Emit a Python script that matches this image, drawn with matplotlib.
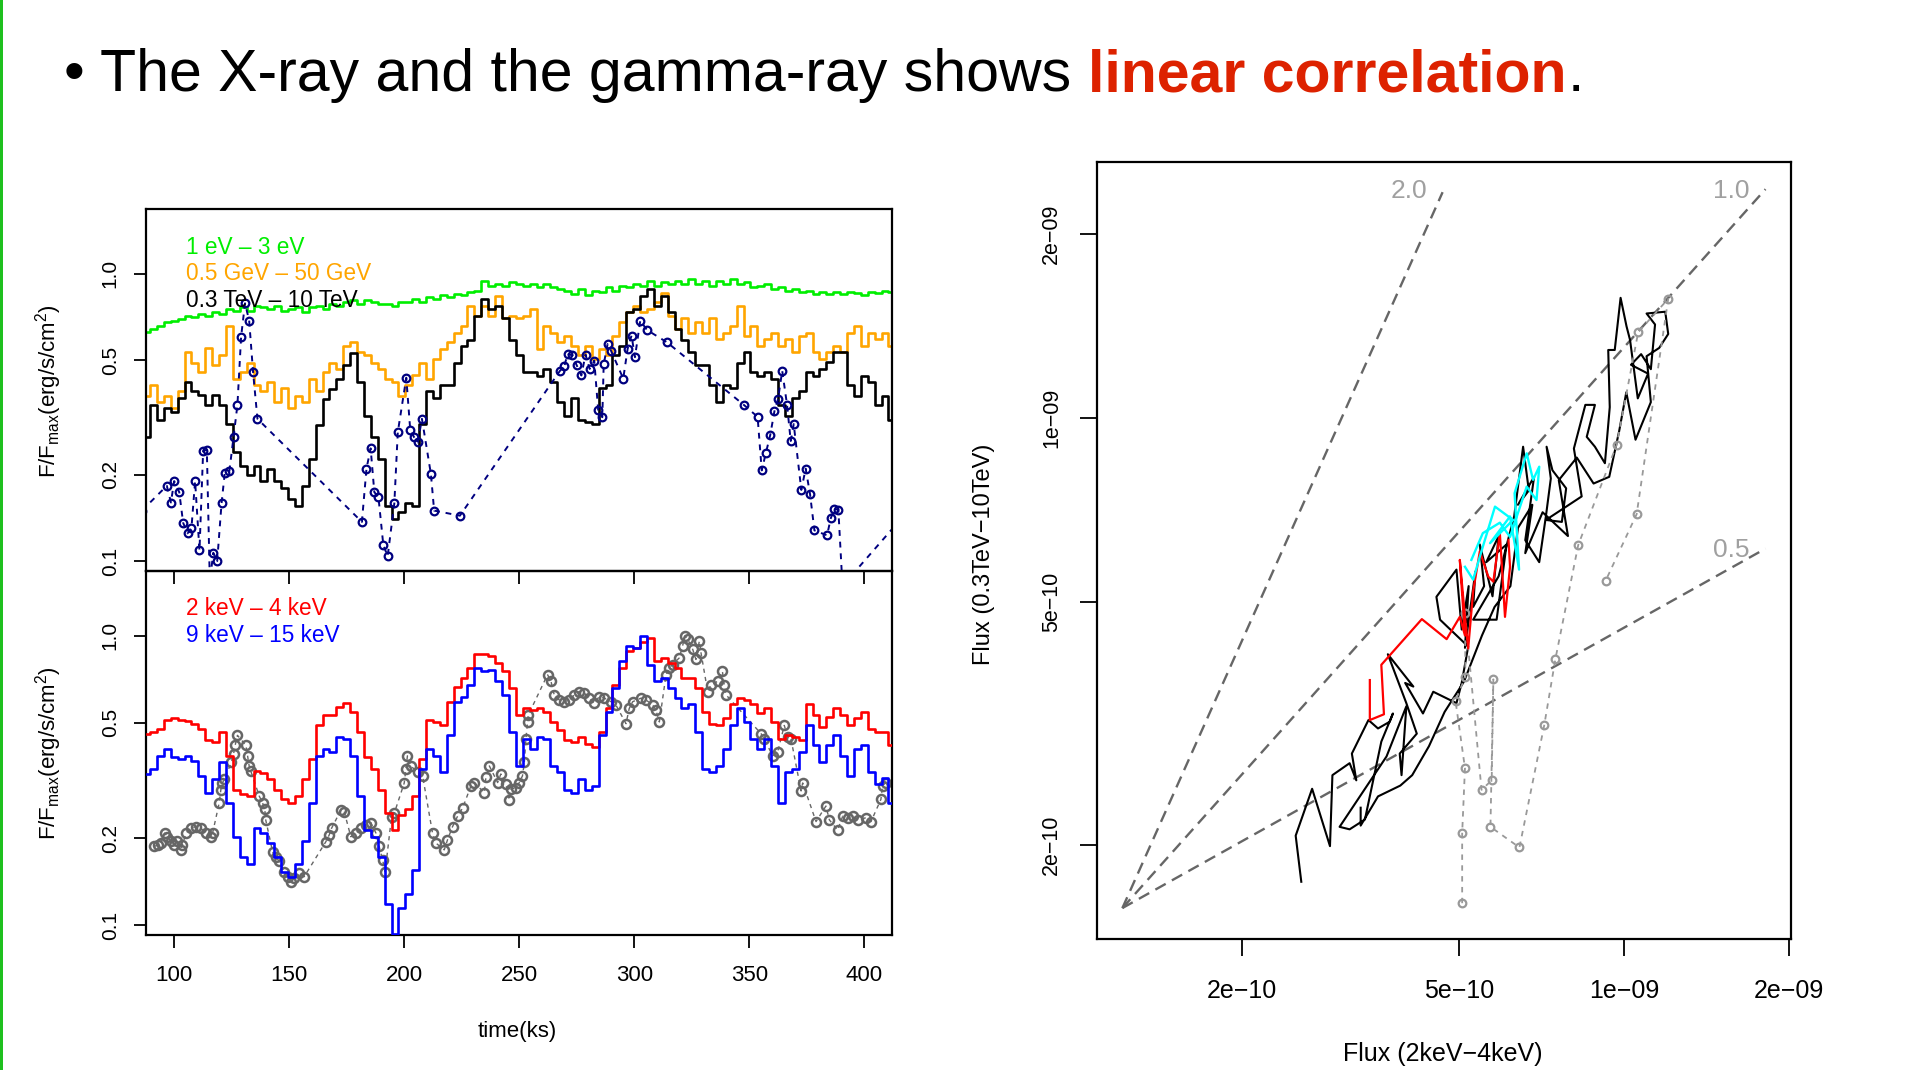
import matplotlib
matplotlib.use("Agg")
import matplotlib.pyplot as plt
from matplotlib.patches import Rectangle
from matplotlib.ticker import NullLocator
import numpy as np

plt.rcParams["font.family"] = ["Liberation Sans", "DejaVu Sans"]
plt.rcParams["mathtext.fontset"] = "custom"
plt.rcParams["mathtext.rm"] = "Liberation Sans"
plt.rcParams["mathtext.it"] = "Liberation Sans:italic"
plt.rcParams["mathtext.bf"] = "Liberation Sans:bold"

# ── Light curves: shared 3-ks time bins (ks) ──────────────────────────────
TIME = [88, 91, 94, 97, 100, 103, 106, 109, 112, 115,
        118, 121, 124, 127, 130, 133, 136, 139, 142, 145,
        148, 151, 154, 157, 160, 163, 166, 169, 172, 175,
        178, 181, 184, 187, 190, 193, 196, 199, 202, 205,
        208, 211, 214, 217, 220, 223, 226, 229, 232, 235,
        238, 241, 244, 247, 250, 253, 256, 259, 262, 265,
        268, 271, 274, 277, 280, 283, 286, 289, 292, 295,
        298, 301, 304, 307, 310, 313, 316, 319, 322, 325,
        328, 331, 334, 337, 340, 343, 346, 349, 352, 355,
        358, 361, 364, 367, 370, 373, 376, 379, 382, 385,
        388, 391, 394, 397, 400, 403, 406, 409, 412]

# optical 1 eV - 3 eV
OPTICAL = [0.626, 0.643, 0.660, 0.679, 0.688, 0.697, 0.716, 0.707, 0.725, 0.716,
           0.735, 0.725, 0.755, 0.745, 0.766, 0.745, 0.776, 0.766, 0.755, 0.776,
           0.745, 0.755, 0.766, 0.735, 0.766, 0.776, 0.755, 0.786, 0.776, 0.797,
           0.808, 0.786, 0.808, 0.797, 0.786, 0.786, 0.776, 0.797, 0.797, 0.818,
           0.797, 0.829, 0.818, 0.841, 0.829, 0.852, 0.841, 0.864, 0.875, 0.948,
           0.911, 0.923, 0.911, 0.935, 0.923, 0.911, 0.923, 0.899, 0.923, 0.899,
           0.887, 0.875, 0.852, 0.887, 0.841, 0.875, 0.864, 0.899, 0.875, 0.911,
           0.899, 0.923, 0.911, 0.948, 0.911, 0.935, 0.923, 0.948, 0.923, 0.961,
           0.923, 0.948, 0.911, 0.948, 0.923, 0.961, 0.923, 0.935, 0.899, 0.911,
           0.923, 0.887, 0.899, 0.875, 0.887, 0.864, 0.875, 0.852, 0.864, 0.852,
           0.868, 0.852, 0.864, 0.860, 0.845, 0.868, 0.860, 0.875, 0.864]

# GeV 0.5 - 50 GeV
GEV = [0.377, 0.410, 0.357, 0.377, 0.340, 0.390, 0.535, 0.490, 0.455, 0.550,
       0.480, 0.520, 0.660, 0.430, 0.455, 0.490, 0.410, 0.390, 0.420, 0.357,
       0.400, 0.340, 0.377, 0.357, 0.430, 0.390, 0.455, 0.490, 0.467, 0.560,
       0.580, 0.535, 0.520, 0.490, 0.467, 0.430, 0.420, 0.377, 0.410, 0.443,
       0.490, 0.430, 0.505, 0.548, 0.578, 0.625, 0.660, 0.775, 0.716, 0.775,
       0.716, 0.840, 0.700, 0.716, 0.700, 0.716, 0.755, 0.548, 0.660, 0.625,
       0.578, 0.610, 0.560, 0.520, 0.560, 0.505, 0.548, 0.520, 0.610, 0.679,
       0.735, 0.775, 0.735, 0.755, 0.797, 0.860, 0.716, 0.643, 0.700, 0.625,
       0.679, 0.625, 0.700, 0.594, 0.625, 0.660, 0.775, 0.610, 0.660, 0.560,
       0.594, 0.625, 0.560, 0.594, 0.535, 0.610, 0.625, 0.535, 0.505, 0.535,
       0.560, 0.535, 0.625, 0.660, 0.560, 0.625, 0.594, 0.625, 0.560]

# TeV 0.3 - 10 TeV
TEV = [0.270, 0.350, 0.310, 0.340, 0.330, 0.370, 0.420, 0.390, 0.380, 0.350,
       0.380, 0.350, 0.300, 0.240, 0.215, 0.200, 0.215, 0.190, 0.210, 0.190,
       0.180, 0.165, 0.156, 0.183, 0.227, 0.297, 0.367, 0.398, 0.430, 0.480,
       0.530, 0.420, 0.320, 0.270, 0.227, 0.156, 0.140, 0.148, 0.160, 0.156,
       0.300, 0.390, 0.370, 0.410, 0.410, 0.490, 0.560, 0.590, 0.716, 0.820,
       0.755, 0.775, 0.700, 0.590, 0.520, 0.455, 0.455, 0.440, 0.467, 0.420,
       0.357, 0.320, 0.370, 0.310, 0.305, 0.300, 0.400, 0.410, 0.520, 0.560,
       0.735, 0.755, 0.840, 0.887, 0.775, 0.840, 0.735, 0.643, 0.590, 0.535,
       0.480, 0.480, 0.410, 0.357, 0.410, 0.400, 0.490, 0.535, 0.455, 0.440,
       0.455, 0.430, 0.350, 0.320, 0.370, 0.390, 0.455, 0.440, 0.467, 0.493,
       0.535, 0.535, 0.410, 0.377, 0.440, 0.420, 0.350, 0.377, 0.310]

# X-ray 2 keV - 4 keV
SOFT_X = [0.459, 0.465, 0.478, 0.511, 0.518, 0.511, 0.507, 0.497, 0.478, 0.435,
          0.429, 0.465, 0.385, 0.294, 0.283, 0.279, 0.341, 0.336, 0.319, 0.294,
          0.272, 0.265, 0.279, 0.319, 0.375, 0.491, 0.532, 0.532, 0.569, 0.584,
          0.546, 0.465, 0.380, 0.346, 0.294, 0.244, 0.213, 0.241, 0.251, 0.279,
          0.375, 0.511, 0.504, 0.491, 0.592, 0.668, 0.715, 0.775, 0.863, 0.867,
          0.851, 0.807, 0.754, 0.659, 0.532, 0.561, 0.553, 0.561, 0.546, 0.504,
          0.471, 0.435, 0.429, 0.446, 0.423, 0.412, 0.465, 0.561, 0.677, 0.775,
          0.886, 0.910, 0.950, 0.980, 0.818, 0.840, 0.807, 0.775, 0.715, 0.715,
          0.659, 0.546, 0.497, 0.491, 0.518, 0.580, 0.608, 0.599, 0.580, 0.539,
          0.561, 0.504, 0.441, 0.453, 0.446, 0.435, 0.580, 0.532, 0.484, 0.525,
          0.561, 0.532, 0.491, 0.518, 0.546, 0.478, 0.465, 0.465, 0.418]

# X-ray 9 keV - 15 keV
HARD_X = [0.333, 0.346, 0.385, 0.406, 0.380, 0.375, 0.385, 0.370, 0.328, 0.287,
          0.319, 0.365, 0.265, 0.202, 0.172, 0.163, 0.216, 0.208, 0.192, 0.172,
          0.153, 0.147, 0.163, 0.196, 0.265, 0.385, 0.406, 0.396, 0.447, 0.441,
          0.385, 0.279, 0.213, 0.202, 0.172, 0.118, 0.093, 0.115, 0.128, 0.155,
          0.346, 0.406, 0.385, 0.337, 0.453, 0.592, 0.617, 0.677, 0.775, 0.754,
          0.765, 0.696, 0.625, 0.465, 0.355, 0.441, 0.406, 0.447, 0.441, 0.355,
          0.337, 0.294, 0.287, 0.319, 0.294, 0.303, 0.453, 0.546, 0.659, 0.818,
          0.923, 0.910, 1.000, 0.796, 0.696, 0.715, 0.659, 0.608, 0.561, 0.580,
          0.465, 0.346, 0.337, 0.355, 0.406, 0.491, 0.561, 0.504, 0.441, 0.406,
          0.441, 0.355, 0.265, 0.337, 0.346, 0.396, 0.491, 0.418, 0.365, 0.418,
          0.453, 0.385, 0.328, 0.406, 0.418, 0.337, 0.307, 0.322, 0.265]

# sparse TeV pointings (navy circles)
POINT_T = [86, 96.8, 98.6, 100, 102.2, 103.9, 105.8, 107.5, 109.1, 111,
           112.6, 114.2, 115.5, 117, 118.7, 120.6, 122, 124, 125.8, 127.5,
           129.1, 130.8, 132.6, 134.3, 136.2, 181.6, 183.6, 185.4, 187, 188.8,
           190.9, 192.8, 195.7, 197.2, 200.9, 202.6, 204.3, 205.9, 207.7, 211.6,
           213, 224.2, 267.7, 269.6, 271, 273.1, 274.9, 277, 278.8, 280.6,
           282.6, 284.3, 286.1, 286.7, 288.4, 289.9, 295.2, 297.1, 298.8, 300.3,
           302.6, 305.5, 314.2, 347.8, 353.6, 355.4, 357.2, 359.1, 360.9, 362.5,
           364.3, 366.4, 368, 369.3, 372.6, 374.5, 376.4, 378.3, 383.8, 385.4,
           387, 388.7, 390.5, 425]
POINT_V = [0.150, 0.183, 0.160, 0.190, 0.174, 0.136, 0.125, 0.130, 0.190, 0.109,
           0.242, 0.244, 0.085, 0.107, 0.100, 0.159, 0.203, 0.206, 0.270, 0.350,
           0.605, 0.790, 0.688, 0.455, 0.313, 0.137, 0.210, 0.247, 0.174, 0.167,
           0.114, 0.104, 0.159, 0.281, 0.435, 0.287, 0.270, 0.259, 0.313, 0.201,
           0.150, 0.144, 0.460, 0.477, 0.527, 0.520, 0.482, 0.443, 0.524, 0.467,
           0.499, 0.336, 0.317, 0.484, 0.570, 0.540, 0.432, 0.548, 0.610, 0.513,
           0.688, 0.638, 0.578, 0.349, 0.318, 0.207, 0.238, 0.275, 0.332, 0.367,
           0.460, 0.350, 0.262, 0.300, 0.177, 0.210, 0.171, 0.128, 0.123, 0.141,
           0.152, 0.151, 0.082, 0.170]

# TeV on X-ray panel (grey circles)
GREY_T = [91.3, 92.8, 94.2, 95.9, 97.1, 98.6, 100, 101.4, 102.9, 103.6,
          105.1, 107.2, 109.4, 111.6, 113.8, 115.9, 116.7, 119.6, 120.3, 121,
          121.7, 124.9, 125.8, 126.5, 127.5, 131.2, 131.9, 132.6, 133.3, 137,
          138.4, 139.4, 139.8, 142.8, 144.2, 145.7, 147.8, 149.3, 150.7, 152.2,
          154.3, 156.5, 165.9, 167.4, 168.4, 172.5, 173.9, 176.8, 179, 181.2,
          183.3, 185.5, 187.7, 189.1, 190.6, 191.7, 194.5, 195.7, 200, 200.7,
          201.4, 202.9, 205.8, 208, 212.3, 213.8, 217.4, 218.8, 221, 223.2,
          225.4, 229, 230.4, 234.8, 235.5, 237, 240.6, 242, 244.2, 245.7,
          246.4, 248.6, 250, 251.4, 252.2, 252.9, 253.6, 253.9, 262.3, 263.8,
          265.2, 267.4, 269.6, 271.7, 273.9, 276.1, 278.3, 280.4, 282.6, 284.8,
          287, 289.9, 292, 296.4, 297.8, 299.3, 302.9, 305.1, 308, 309.4,
          310.9, 313.8, 315.2, 316.7, 319.6, 321, 322, 323.2, 325.4, 326.8,
          328.3, 329, 331.9, 333.3, 336.2, 338.3, 339.1, 339.9, 355.1, 356.5,
          360.1, 362.3, 365.2, 366.7, 368.1, 372.5, 373.2, 379, 383.3, 384.8,
          388.4, 390.6, 392.8, 394.9, 397.1, 400.7, 402.9, 407.2, 407.9, 409.3]
GREY_V = [0.187, 0.189, 0.192, 0.208, 0.202, 0.195, 0.189, 0.195, 0.182, 0.189,
          0.208, 0.216, 0.219, 0.216, 0.208, 0.202, 0.208, 0.265, 0.294, 0.310,
          0.319, 0.365, 0.390, 0.418, 0.453, 0.418, 0.385, 0.355, 0.341, 0.279,
          0.265, 0.251, 0.231, 0.179, 0.172, 0.166, 0.153, 0.147, 0.141, 0.145,
          0.151, 0.147, 0.194, 0.205, 0.216, 0.250, 0.247, 0.202, 0.208, 0.216,
          0.222, 0.226, 0.208, 0.187, 0.168, 0.153, 0.237, 0.244, 0.310, 0.346,
          0.385, 0.355, 0.337, 0.328, 0.208, 0.192, 0.182, 0.197, 0.219, 0.238,
          0.254, 0.303, 0.311, 0.287, 0.324, 0.355, 0.311, 0.333, 0.307, 0.270,
          0.295, 0.299, 0.311, 0.328, 0.365, 0.440, 0.504, 0.532, 0.734, 0.696,
          0.625, 0.600, 0.592, 0.600, 0.625, 0.642, 0.634, 0.609, 0.585, 0.617,
          0.609, 0.592, 0.577, 0.497, 0.561, 0.592, 0.609, 0.600, 0.577, 0.554,
          0.504, 0.734, 0.775, 0.796, 0.840, 0.923, 1.000, 0.974, 0.898, 0.829,
          0.961, 0.874, 0.642, 0.677, 0.696, 0.754, 0.677, 0.625, 0.459, 0.441,
          0.385, 0.396, 0.490, 0.447, 0.441, 0.291, 0.310, 0.228, 0.258, 0.231,
          0.213, 0.238, 0.235, 0.238, 0.231, 0.235, 0.228, 0.272, 0.303, 0.311]

TIME_TICKS = [100, 150, 200, 250, 300, 350, 400]
RATIO_TICKS = [0.1, 0.2, 0.5, 1.0]
RATIO_LABELS = ["0.1", "0.2", "0.5", "1.0"]

TOP_LEGEND = ["1 eV \u2013 3 eV", "0.5 GeV \u2013 50 GeV", "0.3 TeV \u2013 10 TeV"]
TOP_COLORS = ["#00ee00", "#ffa500", "black"]
BOT_LEGEND = ["2 keV \u2013 4 keV", "9 keV \u2013 15 keV"]
BOT_COLORS = ["#ff0000", "#0000ff"]

# ── Flux-flux diagram (units of 1e-10 erg/s/cm2) ─────────────────────────
BLACK_X = [2.57, 2.51, 2.69, 2.90, 2.93, 3.15, 3.24, 3.18, 3.41, 3.55,
           3.73, 3.78, 3.60, 3.36, 3.15, 3.02, 3.68, 4.00, 3.92, 3.89,
           4.18, 4.00, 3.70, 4.12, 3.98, 4.29, 4.48, 4.94, 5.05, 5.19,
           4.61, 4.54, 4.94, 5.05, 5.20, 5.12, 5.35, 5.30, 5.55, 5.45,
           5.75, 5.90, 5.60, 6.10, 5.85, 5.30, 5.90, 6.30, 6.54, 6.70,
           6.40, 6.85, 6.60, 7.00, 7.20, 7.35, 7.22, 7.40, 7.84, 7.70,
           7.20, 8.37, 8.10, 8.50, 8.85, 8.55, 8.85, 9.23, 9.42, 9.36,
           9.62, 9.86, 10.11, 10.26, 10.60, 11.07, 10.30, 10.75, 11.20, 11.40,
           11.00, 11.90, 12.05, 11.60, 11.00, 11.20, 10.50, 10.10, 9.80, 9.40,
           8.80, 8.20, 7.60, 7.90, 7.10, 6.60, 6.80, 6.40, 6.20, 5.80,
           5.50, 5.10, 4.70, 4.40, 4.10, 3.90, 3.55, 3.30, 3.30]
BLACK_Y = [1.74, 2.07, 2.47, 1.99, 2.60, 2.72, 2.55, 2.82, 3.20, 3.10,
           3.18, 3.28, 2.95, 2.20, 2.12, 2.14, 2.79, 3.37, 2.60, 2.82,
           3.04, 3.41, 4.10, 3.63, 3.68, 3.28, 3.56, 3.41, 3.68, 4.22,
           4.67, 5.09, 5.64, 4.50, 5.30, 4.20, 5.60, 4.90, 5.30, 6.20,
           5.10, 6.40, 5.80, 6.20, 4.67, 4.67, 5.50, 6.90, 8.96, 7.60,
           7.20, 8.00, 6.30, 5.80, 6.90, 7.95, 8.96, 8.20, 7.66, 6.75,
           6.80, 7.43, 8.90, 10.49, 10.49, 9.30, 8.96, 8.42, 10.40, 12.90,
           12.90, 15.70, 14.10, 13.40, 10.75, 11.80, 12.20, 12.70, 12.00, 14.20,
           14.80, 14.90, 13.70, 13.00, 12.60, 10.60, 9.20, 11.00, 9.50, 8.00,
           7.80, 8.60, 7.90, 6.40, 7.00, 6.00, 7.20, 6.60, 5.30, 4.90,
           4.40, 3.70, 3.30, 2.90, 2.60, 2.50, 2.40, 2.15, 2.30]

RED_X = [3.43, 3.43, 3.64, 3.60, 4.27, 4.74, 5.01, 5.12, 5.01, 5.12,
         5.19, 5.30, 5.45, 5.65, 5.77, 5.93, 6.06, 6.19, 6.15]
RED_Y = [3.72, 3.20, 3.27, 3.94, 4.68, 4.34, 4.72, 4.40, 5.85, 4.72,
         4.19, 5.20, 6.04, 5.49, 5.39, 6.47, 4.72, 5.70, 6.30]

CYAN_X = [5.12, 5.30, 5.45, 5.81, 6.27, 5.69, 6.19, 6.43, 6.31, 6.64,
          6.82, 7.00, 6.92, 6.64, 6.19, 5.93, 5.52, 5.26]
CYAN_Y = [5.70, 5.43, 5.92, 7.15, 6.80, 6.23, 6.89, 5.64, 7.52, 8.74,
          7.91, 8.31, 7.33, 7.71, 6.38, 6.73, 6.47, 5.85]

GREY_X = [5.06, 5.06, 5.12, 4.92, 5.13, 5.12, 5.49, 5.73, 5.77, 5.70,
          6.44, 7.15, 7.49, 8.25, 9.70, 10.62, 12.05, 10.55, 9.26]
GREY_Y = [1.605, 2.09, 2.67, 3.44, 3.77, 4.79, 2.46, 2.55, 3.73, 2.14,
          1.98, 3.14, 4.02, 6.19, 9.03, 13.8, 15.64, 6.95, 5.41]

# guide lines F_TeV ~ F_X^index through a common anchor
GUIDE_INDEX = [2.0, 1.0, 0.5]
GUIDE_LABELS = ["2.0", "1.0", "0.5"]
GUIDE_X0, GUIDE_Y0 = 1.21e-10, 1.576e-10
GUIDE_X_END = [4.66e-10, 1.815e-9, 1.815e-9]
GUIDE_LABEL_X = [4.04e-10, 1.57e-9, 1.57e-9]
GUIDE_LABEL_Y = [2.35e-9, 2.35e-9, 6.07e-10]

FLUX_TICKS = [2e-10, 5e-10, 1e-9, 2e-9]
FLUX_LABELS = ["2e\u221210", "5e\u221210", "1e\u221209", "2e\u221209"]

SCALE = 1e-10
W_PX, H_PX = 1568, 879  # reference layout grid


def fx(px):
    return px / W_PX


def fy(py):
    return 1 - py / H_PX


def style_axes(ax, tick_len, xlab, ylab, xpad, ypad):
    for s in ax.spines.values():
        s.set_linewidth(1.6)
    ax.tick_params(which="major", direction="out", length=tick_len, width=1.3)
    ax.tick_params(axis="x", labelsize=xlab, pad=xpad)
    ax.tick_params(axis="y", labelsize=ylab, pad=ypad, labelrotation=90)
    ax.xaxis.set_minor_locator(NullLocator())
    ax.yaxis.set_minor_locator(NullLocator())
    for lab in ax.get_yticklabels():
        lab.set_verticalalignment("center")


fig = plt.figure(figsize=(19.09, 10.70), dpi=100)

# left green slide bar
fig.add_artist(Rectangle((0, 0), 3 / 1909, 1, transform=fig.transFigure,
                         color="#1ec01e", lw=0))

# ── Left: light curves ────────────────────────────────────────────────────
ax_bot = fig.add_axes([fx(120), fy(768), fx(733) - fx(120), fy(469) - fy(768)])
ax_top = fig.add_axes([fx(120), fy(469), fx(733) - fx(120), fy(172) - fy(469)])
ax_top.set_zorder(3)
ax_top.patch.set_alpha(0)

for ax in (ax_top, ax_bot):
    ax.set_yscale("log")
    ax.set_xlim(87.8, 412.2)
    ax.set_ylim(0.0925, 1.677)
    ax.set_xticks(TIME_TICKS)
    ax.set_yticks(RATIO_TICKS, labels=RATIO_LABELS)
    style_axes(ax, 9, 16, 15, 13, 10)
ax_top.tick_params(axis="x", labelbottom=False)

ax_top.step(TIME, OPTICAL, where="mid", color="#00ee00", lw=1.9)
ax_top.step(TIME, GEV, where="mid", color="#ffa500", lw=1.9)
ax_top.step(TIME, TEV, where="mid", color="black", lw=1.9)
ax_top.plot(POINT_T, POINT_V, ls=(0, (3, 3)), color="#000080", lw=1.4,
            marker="o", ms=5.5, mfc="none", mec="#000080", mew=1.6)

ax_bot.plot(GREY_T, GREY_V, ls=(0, (3, 3)), color="#666666", lw=1.0,
            marker="o", ms=6.5, mfc="none", mec="#666666", mew=1.8, zorder=2)
ax_bot.step(TIME, SOFT_X, where="mid", color="#ff0000", lw=1.9, zorder=3)
ax_bot.step(TIME, HARD_X, where="mid", color="#0000ff", lw=1.9, zorder=3)

for txt, col, py in zip(TOP_LEGEND, TOP_COLORS, [203, 225, 247]):
    fig.text(fx(153), fy(py), txt, color=col, fontsize=16.3, va="center", ha="left", zorder=5)
for txt, col, py in zip(BOT_LEGEND, BOT_COLORS, [500, 522]):
    fig.text(fx(153), fy(py), txt, color=col, fontsize=16.3, va="center", ha="left")

ylab = r"F/F$_{\rm max}$(erg/s/cm$^{2}$)"
fig.text(fx(40), fy(321), ylab, rotation=90, fontsize=16, ha="center", va="center")
fig.text(fx(40), fy(619), ylab, rotation=90, fontsize=16, ha="center", va="center")
fig.text(fx(425), fy(847), "time(ks)", fontsize=16, ha="center", va="center")

# ── Right: flux-flux diagram ──────────────────────────────────────────────
ax_sc = fig.add_axes([fx(901), fy(771), fx(1471) - fx(901), fy(133) - fy(771)])
ax_sc.set_xscale("log")
ax_sc.set_yscale("log")
ax_sc.set_xlim(1.087e-10, 2.02e-9)
ax_sc.set_ylim(1.405e-10, 2.62e-9)
ax_sc.set_xticks(FLUX_TICKS, labels=FLUX_LABELS)
ax_sc.set_yticks(FLUX_TICKS, labels=FLUX_LABELS)
style_axes(ax_sc, 12, 18, 15.5, 17, 13)

for idx, xe in zip(GUIDE_INDEX, GUIDE_X_END):
    ax_sc.plot([GUIDE_X0, xe], [GUIDE_Y0, GUIDE_Y0 * (xe / GUIDE_X0) ** idx],
               ls=(0, (5, 3)), color="#666666", lw=1.7, zorder=1)
for lab, lx, ly in zip(GUIDE_LABELS, GUIDE_LABEL_X, GUIDE_LABEL_Y):
    ax_sc.text(lx, ly, lab, color="#a0a0a0", fontsize=19, ha="center", va="center")

ax_sc.plot(np.array(BLACK_X) * SCALE, np.array(BLACK_Y) * SCALE,
           color="black", lw=1.5, zorder=2)
ax_sc.plot(np.array(GREY_X) * SCALE, np.array(GREY_Y) * SCALE,
           ls=(0, (3, 3)), color="#999999", lw=1.3, marker="o", ms=5.5,
           mfc="none", mec="#999999", mew=1.6, zorder=3)
ax_sc.plot(np.array(RED_X) * SCALE, np.array(RED_Y) * SCALE,
           color="#ff0000", lw=1.6, zorder=4)
ax_sc.plot(np.array(CYAN_X) * SCALE, np.array(CYAN_Y) * SCALE,
           color="#00ffff", lw=1.7, zorder=5)

fig.text(fx(1185), fy(866), "Flux (2keV\u22124keV)", fontsize=18, ha="center", va="center")
fig.text(fx(808), fy(455), "Flux (0.3TeV\u221210TeV)", fontsize=17, rotation=90,
         ha="center", va="center")

# ── Title line ────────────────────────────────────────────────────────────
renderer = fig.canvas.get_renderer()
base = fy(75)
fig.text(fx(52), base, "\u2022", fontsize=42.5, va="baseline", ha="left")
t1 = fig.text(fx(82), base, "The X-ray and the gamma-ray shows", fontsize=42.5,
              va="baseline", ha="left")
x_next = t1.get_window_extent(renderer).x1 / fig.bbox.width + 0.0088
t2 = fig.text(x_next, base, "linear correlation", fontsize=42.5, fontweight="bold",
              color="#dd2200", va="baseline", ha="left")
x_next = t2.get_window_extent(renderer).x1 / fig.bbox.width + 0.0005
fig.text(x_next, base, ".", fontsize=42.5, va="baseline", ha="left")

fig.savefig("out.png", dpi=100)
